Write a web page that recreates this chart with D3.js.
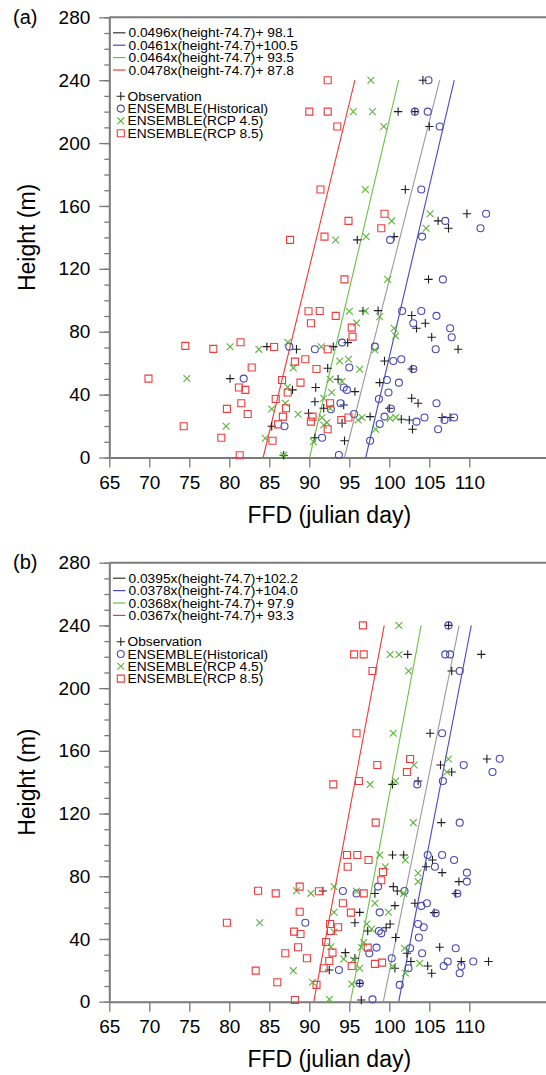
<!DOCTYPE html>
<html>
<head>
<meta charset="utf-8">
<script src="https://cdn.jsdelivr.net/npm/d3@7"></script>
<style>
  html, body { margin: 0; padding: 0; background: #fff; }
  svg { display: block; font-family: "Liberation Sans", Arial, Helvetica, sans-serif; }
</style>
</head>
<body>
<div id="chart"></div>
<script>
// ---- data: [FFD (julian day), height (m)] ----
const obsA = [[104.2,240],[101.1,220],[103.2,220],[105.0,210.5],[102.0,170.5],[109.7,155],[106.1,150.5],[107.4,145.8],[100.6,140.5],[96.0,138.4],[104.9,113.3],
  [96.7,93.2],[98.6,93.4],[102.8,90.3],[104.5,85.4],[103.4,82.2],[105.3,76.5],[94.8,73.1],[84.7,70.5],[93.0,70.5],[88.4,68.9],[108.6,68.9],
  [99.4,61.4],[92.3,56.8],[102.8,56.3],[80.1,50.2],[93.6,49.8],[98.8,47.6],[90.8,44.5],[87.9,43.0],[95.7,41.9],[102.8,37.7],[90.7,35.5],[103.6,34.5],
  [94.3,33.4],[91.8,31.3],[100.0,31.3],[89.9,28.1],[97.6,26.0],[106.6,25.4],[107.6,25.4],[101.5,24.3],[102.5,23.9],[94.1,21.8],[85.3,19.9],[102.9,18.0],
  [90.7,12.6],[94.4,10.7],[86.8,1.4]];
const histA = [[104.9,240],[103.2,220],[104.8,220],[106.3,210.5],[104.0,170.5],[112.1,155],[107.0,150.5],[111.4,145.8],[104.1,140.5],[100.1,138.4],[106.7,113.3],
  [101.6,93.2],[104.0,93.2],[105.9,90.1],[103.0,85.4],[107.6,82.2],[107.8,76.5],[94.1,73.1],[87.5,70.5],[98.2,70.5],[90.7,68.9],[105.8,68.9],
  [101.5,62.5],[100.5,61.4],[95.0,57.2],[103.0,56.3],[81.8,50.2],[99.7,49.3],[101.2,47.6],[94.3,44.5],[94.7,43.0],[99.9,41.3],[98.7,37.2],[93.9,34.5],
  [105.9,34.5],[92.7,30.7],[100.2,31.0],[95.6,27.7],[99.4,26.0],[104.4,25.4],[108.1,25.4],[106.9,23.9],[103.4,22.8],[98.8,21.3],[86.9,19.9],[106.1,18.0],
  [91.6,12.6],[97.6,10.7],[93.7,1.6]];
const rcp45A = [[97.7,240],[95.5,220],[97.9,220],[99.3,210.5],[97.0,170.5],[105.1,155],[100.3,150.5],[104.6,145.8],[97.1,140.5],[93.3,138.4],[99.8,113.3],
  [95.0,93.0],[97.0,93.2],[98.8,89.6],[95.9,85.6],[100.6,82.2],[100.8,77.3],[87.3,73.3],[80.1,70.5],[91.5,70.5],[83.7,68.8],[98.2,68.4],
  [94.9,62.5],[93.8,61.4],[88.0,57.0],[96.3,56.1],[74.7,50.2],[92.6,49.8],[94.1,48.3],[87.3,44.7],[92.8,41.3],[91.8,37.7],[87.0,34.5],[92.6,31.3],
  [85.3,30.9],[88.6,27.5],[91.6,25.4],[96.6,25.4],[100.8,25.4],[100.1,24.9],[96.1,23.9],[92.2,22.2],[91.8,20.7],[79.6,19.9],[98.3,18.0],[84.5,12.2],
  [90.5,10.1],[86.8,1.4]];
const rcp85A = [[92.3,240],[90.0,220],[92.3,220],[93.5,210.5],[91.4,170.5],[99.4,155],[94.9,150.5],[99.0,145.8],[91.9,140.5],[87.6,138.4],[94.4,113.3],
  [89.9,93.0],[91.3,93.2],[93.3,90.1],[90.2,85.4],[95.3,82.6],[95.4,76.9],[81.4,73.3],[74.5,71.0],[85.6,70.3],[78.0,69.1],[92.3,68.9],
  [89.5,62.5],[88.2,61.0],[82.8,57.2],[90.9,56.3],[69.9,50.2],[86.6,49.3],[88.9,47.6],[81.2,44.5],[82.0,43.0],[87.3,41.3],[85.8,37.2],[81.5,34.5],
  [92.6,34.5],[87.1,31.3],[79.7,30.9],[82.3,27.7],[86.7,26.0],[90.4,26.0],[94.9,25.4],[94.0,23.9],[90.2,22.8],[86.1,21.1],[74.3,19.9],[92.3,18.0],
  [79.0,12.6],[85.4,10.7],[81.3,1.4]];

const obsB = [[107.4,240],[102.3,221.5],[111.5,221.5],[107.8,210.9],[105.1,171.2],[112.2,154.8],[106.4,151.0],[107.8,146.5],[103.6,140.8],[100.4,138.6],[106.5,114.2],
  [100.4,93.6],[101.8,93.6],[105.4,90.4],[104.6,86.1],[106.6,82.3],[108.7,76.6],[100.5,73.4],[91.7,70.6],[101.0,70.6],[98.2,69.0],[108.3,69.0],
  [103.2,62.8],[100.7,61.3],[96.3,57.0],[105.6,56.8],[95.7,50.4],[100.1,49.6],[99.6,47.2],[97.3,45.1],[100.8,40.9],[106.3,34.7],[94.5,31.3],[102.2,30.9],
  [95.7,27.7],[102.7,25.6],[109.0,25.6],[112.4,25.6],[104.8,22.8],[100.7,21.3],[92.5,20.2],[105.3,18.1],[96.3,11.7],[96.5,1.1]];
const histB = [[107.4,240],[107.0,221.5],[107.6,221.5],[108.8,210.9],[106.6,171.2],[113.8,155],[109.3,151.0],[112.9,146.5],[106.7,140.8],[103.5,138.6],[108.8,114.2],
  [104.8,93.6],[106.6,93.6],[108.1,90.4],[105.7,86.1],[109.7,82.3],[109.7,76.6],[98.6,73.4],[94.2,70.6],[101.9,70.6],[95.9,69.0],[108.5,69.0],
  [104.7,62.8],[104.0,61.1],[98.8,57.0],[105.8,56.4],[89.5,50.4],[103.6,49.6],[104.3,47.5],[98.7,45.1],[99.0,43.6],[103.7,40.9],[98.4,34.5],[102.6,34.1],
  [108.3,34.1],[97.5,30.9],[104.1,30.9],[100.3,27.7],[107.3,25.6],[110.5,25.6],[106.8,22.8],[109.0,22.8],[102.4,21.3],[93.7,20.2],[108.8,18.1],[96.3,11.7],
  [101.3,10.7],[97.9,1.5]];
const rcp45B = [[101.2,240],[100.1,221.5],[101.2,221.5],[102.4,210.9],[100.5,171.2],[107.4,154.8],[103.1,151.0],[107.2,146.5],[100.8,140.8],[97.6,138.6],[103.0,114.2],
  [98.8,93.6],[102.0,90.4],[99.5,86.1],[103.6,82.0],[103.6,76.6],[93.1,73.4],[88.4,70.8],[95.9,70.4],[90.2,69.1],[101.8,69.1],
  [98.2,62.8],[93.1,57.0],[99.9,57.0],[83.8,50.4],[97.2,49.6],[97.8,46.4],[93.1,44.5],[96.8,37.7],[92.7,35.0],[96.5,34.7],[101.9,34.1],[94.3,27.3],
  [95.5,26.6],[103.8,24.5],[100.4,22.4],[96.3,21.3],[88.0,19.8],[102.0,18.3],[90.4,12.4],[95.3,11.3],[92.5,1.5]];
const rcp85B = [[96.7,240],[95.6,221.5],[96.8,221.5],[97.9,210.9],[95.9,171.2],[102.6,154.8],[98.5,151.0],[102.2,146.5],[96.2,140.8],[93.0,138.6],[98.3,114.2],
  [94.7,93.6],[96.0,93.6],[97.4,90.4],[94.8,86.1],[99.2,82.7],[99.0,77.5],[88.8,73.4],[83.6,70.8],[91.2,70.4],[85.8,69.1],[96.8,69.1],
  [94.2,62.8],[88.8,57.4],[95.2,56.8],[79.7,50.4],[92.6,49.6],[93.6,47.5],[92.7,45.1],[88.1,44.7],[88.9,43.2],[92.1,38.1],[88.6,34.7],[97.3,34.5],
  [92.9,31.3],[87.0,30.9],[89.7,27.7],[92.5,26.0],[99.1,24.9],[98.2,24.1],[95.3,22.8],[91.8,21.3],[83.3,19.8],[86.0,12.4],[90.9,10.7],[88.2,1.1]];

// regression: FFD = slope*(height-74.7) + intercept   (order: obs, hist, rcp4.5, rcp8.5)
const slopesA = [0.0496, 0.0461, 0.0464, 0.0478];
const interceptsA = [98.1, 100.5, 93.5, 87.8];
const slopesB = [0.0395, 0.0378, 0.0368, 0.0367];
const interceptsB = [102.2, 104.0, 97.9, 93.3];

const seriesNames = ["Observation", "ENSEMBLE(Historical)", "ENSEMBLE(RCP 4.5)", "ENSEMBLE(RCP 8.5)"];
const xTicks = [65, 70, 75, 80, 85, 90, 95, 100, 105, 110];
const yTicks = [0, 40, 80, 120, 160, 200, 240, 280];
const yMinor = d3.range(0, 281, 10);
const meanHeight = 74.7;

// ---- styles ----
const W = 546, H = 1075;
const markerColors = ["#1e1e1e", "#4848b4", "#5cb43c", "#f03c3c"];
const lineColors = ["#9a9a9a", "#4a4ac0", "#6cc048", "#f03a3a"];
const legendLineColors = ["#333333", "#4a4ac0", "#6cc048", "#f03a3a"];
const axisColor = "#7a7a7a";
const legendFont = 12.5, legendStretch = 1.1;  // legend text is a bit wider than Liberation Sans

const svg = d3.select("#chart").append("svg")
  .attr("width", W).attr("height", H)
  .attr("viewBox", `0 0 ${W} ${H}`);

svg.append("rect").attr("width", W).attr("height", H).attr("fill", "#fff");

// marker shapes, centred on 0,0
function markerPath(kind){
  if (kind === 0) return "M-4.2,0H4.2M0,-4.2V4.2";
  if (kind === 2) return "M-3.4,-3.4L3.4,3.4M-3.4,3.4L3.4,-3.4";
  if (kind === 3) return "M-3.5,-3.5H3.5V3.5H-3.5Z";
  return null;
}

function drawMarker(g, kind, cx, cy){
  if (kind === 1){
    g.append("circle").attr("cx", cx).attr("cy", cy).attr("r", 3.5)
      .attr("fill", "none").attr("stroke", markerColors[1]).attr("stroke-width", 1.1);
  } else {
    g.append("path").attr("d", markerPath(kind))
      .attr("transform", `translate(${cx},${cy})`)
      .attr("fill", "none").attr("stroke", markerColors[kind]).attr("stroke-width", 1.1);
  }
}

// widen legend text a little without making it taller
function stretch(t){
  const n = t.node().getComputedTextLength();
  t.attr("textLength", n * legendStretch).attr("lengthAdjust", "spacingAndGlyphs");
}

function drawPanel(cfg){
  const top = cfg.top, bottom = cfg.bottom;
  const x = d3.scaleLinear().domain([65, 120]).range([109.3, 549.3]);
  const y = d3.scaleLinear().domain([0, 280]).range([bottom, top]);

  const g = svg.append("g");

  // panel letter
  g.append("text").attr("x", 13).attr("y", top + 6.5)
    .style("font-size", "20px").text(cfg.letter);

  // axes
  const yAxis = g.append("g").attr("transform", `translate(${x(65)},0)`)
    .call(d3.axisLeft(y).tickValues(yTicks).tickSize(10).tickSizeOuter(0).tickPadding(9));
  const yMinorAxis = g.append("g").attr("transform", `translate(${x(65)},0)`)
    .call(d3.axisLeft(y).tickValues(yMinor).tickSize(5).tickSizeOuter(0).tickFormat(""));
  const xAxis = g.append("g").attr("transform", `translate(0,${bottom})`)
    .call(d3.axisBottom(x).tickValues(xTicks).tickSize(10).tickSizeOuter(0).tickPadding(8));

  [yAxis, yMinorAxis, xAxis].forEach(a => {
    a.select(".domain").attr("stroke", axisColor).attr("stroke-width", 2);
    a.selectAll(".tick line").attr("stroke", axisColor).attr("stroke-width", 1.3);
    a.selectAll(".tick text").attr("fill", "#000")
      .style("font-size", "19px").style("font-family", "'Liberation Sans', Arial, sans-serif");
  });
  yMinorAxis.select(".domain").remove();

  // top border
  g.append("line").attr("x1", x(65)).attr("x2", x(120)).attr("y1", y(280)).attr("y2", y(280))
    .attr("stroke", axisColor).attr("stroke-width", 2);

  // axis titles
  g.append("text").attr("text-anchor", "middle")
    .attr("transform", `translate(35,${(top + bottom) / 2}) rotate(-90)`)
    .style("font-size", "23px").text("Height (m)");
  g.append("text").attr("text-anchor", "middle")
    .attr("x", (x(65) + x(120)) / 2).attr("y", bottom + 65)
    .style("font-size", "23px").text("FFD (julian day)");

  // regression lines
  cfg.slopes.forEach((s, i) => {
    const b = cfg.intercepts[i];
    g.append("line")
      .attr("x1", x(s * (0 - meanHeight) + b)).attr("y1", y(0))
      .attr("x2", x(s * (240 - meanHeight) + b)).attr("y2", y(240))
      .attr("stroke", lineColors[i]).attr("stroke-width", 1.1);
  });

  // scatter points
  const pts = g.append("g");
  cfg.series.forEach((data, k) => {
    data.forEach(d => drawMarker(pts, k, x(d[0]), y(d[1])));
  });

  // legend: regression equations
  const leg = g.append("g");
  cfg.slopes.forEach((s, i) => {
    const ry = top + 15.5 + i * 12.4;
    leg.append("line").attr("x1", 113).attr("x2", 125.5).attr("y1", ry).attr("y2", ry)
      .attr("stroke", legendLineColors[i]).attr("stroke-width", 1.2);
    const b = cfg.intercepts[i].toFixed(1);
    const t = leg.append("text").attr("x", 128.5).attr("y", ry + 4.5)
      .style("font-size", legendFont + "px").style("white-space", "pre")
      .text(`${s.toFixed(4)}x(height-${meanHeight})+${b.length < 5 ? " " : ""}${b}`);
    stretch(t);
  });
  // legend: markers
  seriesNames.forEach((name, k) => {
    const ry = top + 79 + k * 12.3;
    drawMarker(leg, k, 120.8, ry);
    const t = leg.append("text").attr("x", 127.5).attr("y", ry + 4.5)
      .style("font-size", legendFont + "px").text(name);
    stretch(t);
  });
}

drawPanel({ letter: "(a)", top: 17.3, bottom: 457.5,
  series: [obsA, histA, rcp45A, rcp85A], slopes: slopesA, intercepts: interceptsA });
drawPanel({ letter: "(b)", top: 562.7, bottom: 1001.7,
  series: [obsB, histB, rcp45B, rcp85B], slopes: slopesB, intercepts: interceptsB });
</script>
</body>
</html>
